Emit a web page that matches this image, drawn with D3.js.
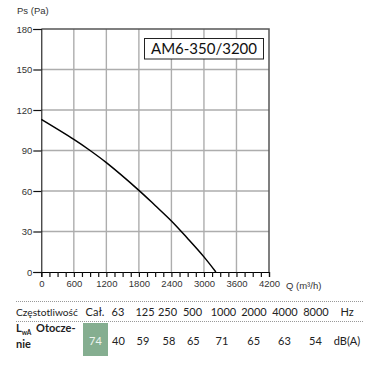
<!DOCTYPE html>
<html><head><meta charset="utf-8">
<script src="https://cdn.jsdelivr.net/npm/d3@7"></script>
<style>
html,body{margin:0;padding:0;background:#fff;}
svg{display:block;}
</style></head>
<body>
<script>
// ---- data ----
const flowQ = [0, 600, 900, 1200, 1800, 2100, 2400, 2700, 3000, 3220];
const pressurePs = [113, 98.2, 90, 81, 60.5, 49.3, 37.8, 24.8, 11.2, 0];
const xTicks = [0, 600, 1200, 1800, 2400, 3000, 3600, 4200];
const yTicks = [0, 30, 60, 90, 120, 150, 180];
const modelName = "AM6-350/3200";
const freqHeader = ["Cał.", "63", "125", "250", "500", "1000", "2000", "4000", "8000", "Hz"];
const soundValues = ["74", "40", "59", "58", "65", "71", "65", "63", "54", "dB(A)"];

// ---- layout ----
const W = 383, H = 375;
const plot = {l: 41.3, r: 269, t: 29, b: 272};
const colCenters = [95, 118, 145, 167.5, 192.5, 223.5, 254, 285, 316, 347];
const valCenters = [95.5, 118.5, 143, 169, 193.3, 222, 253.7, 284.5, 315.5, 347];

const svg = d3.select("body").append("svg").attr("width", W).attr("height", H);

const x = d3.scaleLinear().domain([0, 4200]).range([plot.l, plot.r]);
const y = d3.scaleLinear().domain([0, 180]).range([plot.b, plot.t]);

const axisFont = "'Liberation Sans', Arial, sans-serif";
const tableFont = "'Lato', 'Noto Sans', sans-serif";

// grid
const g = svg.append("g");
g.selectAll("line.gx").data(xTicks.slice(1, -1)).join("line")
  .attr("x1", d => x(d)).attr("x2", d => x(d)).attr("y1", plot.t).attr("y2", plot.b)
  .attr("stroke", "#adadad").attr("stroke-width", 1.4);
g.selectAll("line.gy").data(yTicks.slice(1, -1)).join("line")
  .attr("y1", d => y(d)).attr("y2", d => y(d)).attr("x1", plot.l).attr("x2", plot.r)
  .attr("stroke", "#adadad").attr("stroke-width", 1.4);

// top/right border
g.append("path")
  .attr("d", `M${plot.l},${plot.t}H${plot.r}V${plot.b}`)
  .attr("fill", "none").attr("stroke", "#555").attr("stroke-width", 1.5);

// axes
const yMinor = d3.range(0, 180.01, 7.5);
const xMinor = d3.range(0, 4200.01, 150);

const yAxisMinor = d3.axisLeft(y).tickValues(yMinor).tickSize(5).tickFormat("");
const yAxis = d3.axisLeft(y).tickValues(yTicks).tickSize(8).tickPadding(1);
const xAxis = d3.axisBottom(x).tickValues(xMinor).tickSize(5)
  .tickFormat(d => xTicks.includes(d) ? d : "").tickPadding(3);

const ya = svg.append("g").attr("transform", `translate(${plot.l},0)`);
ya.call(yAxisMinor);
ya.call(yAxis);
ya.selectAll("path.domain").attr("stroke", "#000");
ya.selectAll("line").attr("stroke", "#111").attr("stroke-width", 1.2);
ya.selectAll("text").attr("font-family", axisFont).attr("font-size", 9.5).attr("fill", "#333");

const xa = svg.append("g").attr("transform", `translate(0,${plot.b})`).call(xAxis);
xa.select("path.domain").attr("stroke", "#000").attr("stroke-width", 1.2);
xa.selectAll("line").attr("stroke", "#111").attr("stroke-width", 1.2);
xa.selectAll("text").attr("font-family", axisFont).attr("font-size", 9.5).attr("fill", "#333");

// axis titles
svg.append("text").attr("x", 17).attr("y", 14).text("Ps (Pa)")
  .attr("font-family", axisFont).attr("font-size", 9.5).attr("fill", "#333");
svg.append("text").attr("x", 286).attr("y", 289).text("Q (m³/h)")
  .attr("font-family", axisFont).attr("font-size", 9.5).attr("fill", "#333");

// curve
const pts = flowQ.map((q, i) => [q, pressurePs[i]]);
svg.append("path").datum(pts)
  .attr("d", d3.line().x(d => x(d[0])).y(d => y(d[1])).curve(d3.curveCatmullRom.alpha(0.5)))
  .attr("fill", "none").attr("stroke", "#000").attr("stroke-width", 1.5);

// title box
svg.append("rect").attr("x", 144.5).attr("y", 38.5).attr("width", 119).attr("height", 20.5)
  .attr("fill", "#fff").attr("stroke", "#222").attr("stroke-width", 1);
svg.append("text").attr("x", 204).attr("y", 54).attr("text-anchor", "middle")
  .attr("font-family", tableFont).attr("font-size", 15).attr("fill", "#111")
  .attr("textLength", 106).attr("lengthAdjust", "spacing")
  .text(modelName);

// table
const tcol = "#222";
[301.5, 321.5].forEach(yy => {
  svg.append("line").attr("x1", 16).attr("x2", 363).attr("y1", yy).attr("y2", yy)
    .attr("stroke", "#999").attr("stroke-width", 1).attr("stroke-dasharray", "1,1");
});
svg.append("text").attr("x", 16).attr("y", 316).text("Częstotliwość")
  .attr("font-family", tableFont).attr("font-size", 10.2).attr("fill", tcol);
svg.selectAll("text.hdr").data(freqHeader).join("text").attr("class", "hdr")
  .attr("x", (d, i) => colCenters[i]).attr("y", 316).attr("text-anchor", "middle")
  .attr("font-family", tableFont).attr("font-size", 11).attr("fill", tcol).text(d => d);

// green cell
svg.append("rect").attr("x", 83).attr("y", 323).attr("width", 25).attr("height", 33)
  .attr("fill", "#85ae90");
svg.selectAll("text.val").data(soundValues).join("text").attr("class", "val")
  .attr("x", (d, i) => valCenters[i]).attr("y", 345).attr("text-anchor", "middle")
  .attr("font-family", tableFont).attr("font-size", 11)
  .attr("fill", (d, i) => i === 0 ? "#eef4ef" : tcol).text(d => d);

// row label
const lbl = svg.append("text").attr("x", 16).attr("y", 332)
  .attr("font-family", tableFont).attr("font-size", 11).attr("font-weight", "bold").attr("fill", tcol);
lbl.append("tspan").text("L");
lbl.append("tspan").attr("font-size", 6.5).attr("dy", 2.5).text("wA");
lbl.append("tspan").attr("dy", -2.5).attr("x", 36).text("Otocze-");
svg.append("text").attr("x", 16).attr("y", 348).text("nie")
  .attr("font-family", tableFont).attr("font-size", 11).attr("font-weight", "bold").attr("fill", tcol);
</script>
</body></html>
